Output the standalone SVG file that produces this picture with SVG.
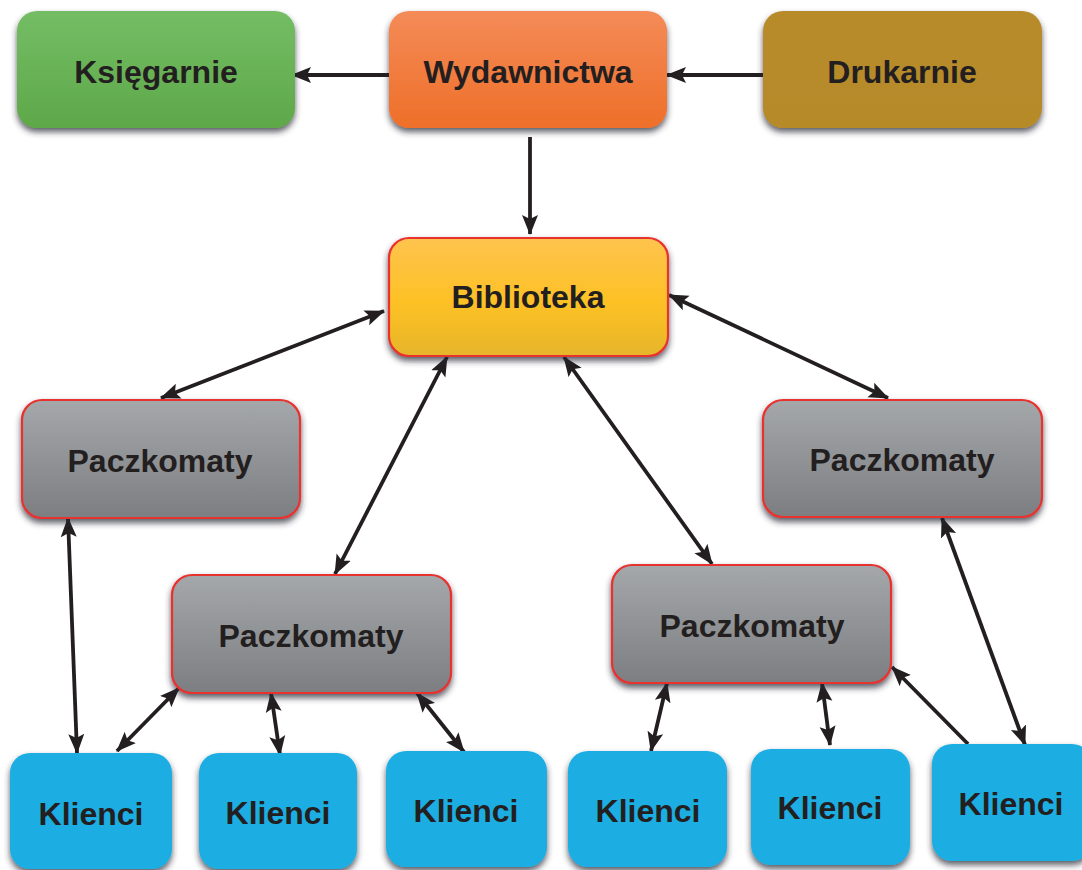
<svg xmlns="http://www.w3.org/2000/svg" width="1082" height="870" viewBox="0 0 1082 870">
<defs>
<style>
.lbl{font-family:"Liberation Sans",Arial,sans-serif;font-weight:bold;font-size:32px;fill:#231f20;text-anchor:middle}
.box{filter:url(#sh)}
.red{stroke:#e8312f;stroke-width:2.2}
.con line{stroke:#231f20;stroke-width:3.8;fill:none}
.one{marker-end:url(#ah)}
.two{marker-end:url(#ah);marker-start:url(#ah)}
</style>
<filter id="sh" x="-10%" y="-10%" width="120%" height="130%">
<feDropShadow dx="0" dy="4" stdDeviation="3" flood-color="#262636" flood-opacity="0.75"/>
</filter>
<linearGradient id="gGreen" x1="0" y1="0" x2="0" y2="1"><stop offset="0" stop-color="#74bd65"/><stop offset="1" stop-color="#5ea849"/></linearGradient>
<linearGradient id="gOrange" x1="0" y1="0" x2="0" y2="1"><stop offset="0" stop-color="#f48b58"/><stop offset="1" stop-color="#ee6f28"/></linearGradient>
<linearGradient id="gBrown" x1="0" y1="0" x2="0" y2="1"><stop offset="0" stop-color="#b88b2b"/><stop offset="1" stop-color="#b68a28"/></linearGradient>
<linearGradient id="gYellow" x1="0" y1="0" x2="0" y2="1"><stop offset="0" stop-color="#fec34e"/><stop offset="0.55" stop-color="#fdc125"/><stop offset="1" stop-color="#e6b52a"/></linearGradient>
<linearGradient id="gGray" x1="0" y1="0" x2="0" y2="1"><stop offset="0" stop-color="#a5a8aa"/><stop offset="1" stop-color="#7c7e81"/></linearGradient>
<marker id="ah" markerUnits="userSpaceOnUse" markerWidth="22" markerHeight="18" refX="19" refY="9" orient="auto-start-reverse" viewBox="0 0 22 18">
<path d="M0,1 L20,9 L0,17 L4,9 z" fill="#231f20"/>
</marker>
</defs>
<rect width="1082" height="870" fill="#ffffff"/>

<g id="connectors" class="con">
<line class="one" x1="389" y1="75" x2="292" y2="75"/>
<line class="one" x1="763" y1="75" x2="667" y2="75"/>
<line class="one" x1="530" y1="137" x2="530" y2="234"/>
<line class="two" x1="384" y1="311" x2="161" y2="398"/>
<line class="two" x1="447" y1="357" x2="335" y2="574"/>
<line class="two" x1="564" y1="357" x2="712" y2="564"/>
<line class="two" x1="669" y1="295" x2="888" y2="398"/>
<line class="two" x1="68" y1="518" x2="77" y2="753"/>
<line class="two" x1="179" y1="688" x2="117" y2="751"/>
<line class="two" x1="271" y1="693" x2="280" y2="755"/>
<line class="two" x1="417" y1="693" x2="464" y2="752"/>
<line class="two" x1="667" y1="683" x2="651" y2="751"/>
<line class="two" x1="822" y1="683" x2="830" y2="745"/>
<line class="one" x1="968" y1="744" x2="892" y2="667"/>
<line class="two" x1="942" y1="518" x2="1025" y2="745"/>
</g>

<g id="ksiegarnie"><rect class="box" x="17" y="11" width="278" height="117" rx="20" fill="url(#gGreen)"/><text class="lbl" x="156" y="83">Księgarnie</text></g>
<g id="wydawnictwa"><rect class="box" x="389" y="11" width="278" height="117" rx="20" fill="url(#gOrange)"/><text class="lbl" x="528" y="83">Wydawnictwa</text></g>
<g id="drukarnie"><rect class="box" x="763" y="11" width="279" height="117" rx="20" fill="url(#gBrown)"/><text class="lbl" x="902" y="83">Drukarnie</text></g>

<g id="biblioteka"><rect class="box red" x="389" y="238" width="279" height="118" rx="20" fill="url(#gYellow)"/><text class="lbl" x="528" y="308">Biblioteka</text></g>

<g id="paczkomaty1"><rect class="box red" x="22" y="400" width="278" height="118" rx="20" fill="url(#gGray)"/><text class="lbl" x="160" y="472">Paczkomaty</text></g>
<g id="paczkomaty2"><rect class="box red" x="172" y="575" width="279" height="118" rx="20" fill="url(#gGray)"/><text class="lbl" x="311" y="647">Paczkomaty</text></g>
<g id="paczkomaty3"><rect class="box red" x="612" y="565" width="279" height="118" rx="20" fill="url(#gGray)"/><text class="lbl" x="752" y="637">Paczkomaty</text></g>
<g id="paczkomaty4"><rect class="box red" x="763" y="400" width="279" height="117" rx="20" fill="url(#gGray)"/><text class="lbl" x="902" y="471">Paczkomaty</text></g>

<g id="klienci1"><rect class="box" x="10" y="753" width="162" height="116" rx="20" fill="#1badE3"/><text class="lbl" x="91" y="825">Klienci</text></g>
<g id="klienci2"><rect class="box" x="199" y="753" width="158" height="116" rx="20" fill="#1badE3"/><text class="lbl" x="278" y="824">Klienci</text></g>
<g id="klienci3"><rect class="box" x="386" y="751" width="161" height="116" rx="20" fill="#1badE3"/><text class="lbl" x="466" y="822">Klienci</text></g>
<g id="klienci4"><rect class="box" x="568" y="751" width="159" height="116" rx="20" fill="#1badE3"/><text class="lbl" x="648" y="822">Klienci</text></g>
<g id="klienci5"><rect class="box" x="751" y="749" width="159" height="116" rx="20" fill="#1badE3"/><text class="lbl" x="830" y="819">Klienci</text></g>
<g id="klienci6"><rect class="box" x="932" y="744" width="160" height="117" rx="20" fill="#1badE3"/><text class="lbl" x="1011" y="815">Klienci</text></g>
</svg>
